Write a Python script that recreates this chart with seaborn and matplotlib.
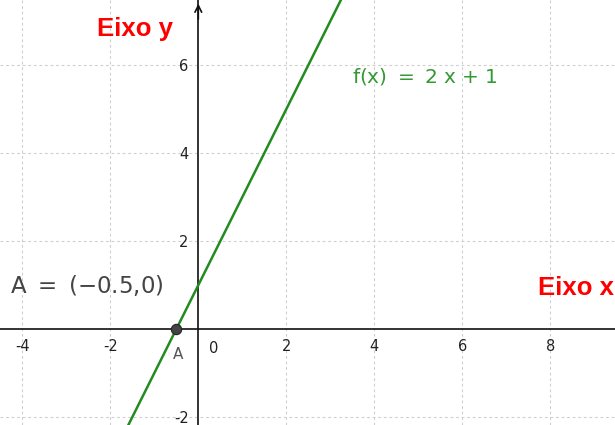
import matplotlib
matplotlib.use("Agg")
import matplotlib.pyplot as plt
import seaborn as sns
import pandas as pd

# data
line_x = [-2.0, 3.6]          # f(x) = 2x + 1 endpoints
line_y = [-3.0, 8.2]
point_x = [-0.5]
point_y = [0.0]
x_ticks = [-4, -2, 2, 4, 6, 8]
y_ticks = [-2, 2, 4, 6]

sns.set_theme(style="white")
plt.rcParams['font.family'] = ['DejaVu Sans']
plt.rcParams['axes.unicode_minus'] = False

fig = plt.figure(figsize=(6.15, 4.25), dpi=100)
ax = fig.add_axes([0, 0, 1, 1])

xlim = (-4.507, 9.47)
ylim = (-2.18, 7.48)

df_line = pd.DataFrame({"x": line_x, "y": line_y})
sns.lineplot(data=df_line, x="x", y="y", color="#228b22", lw=1.8, ax=ax, zorder=3)
df_pt = pd.DataFrame({"x": point_x, "y": point_y})
sns.scatterplot(data=df_pt, x="x", y="y", color="#444444", s=55, edgecolor="#222222",
                linewidth=0.8, ax=ax, zorder=5)

ax.set_xlim(*xlim)
ax.set_ylim(*ylim)
ax.set_xlabel("")
ax.set_ylabel("")

for s in ["top", "right"]:
    ax.spines[s].set_visible(False)
ax.spines["left"].set_position(("data", 0))
ax.spines["bottom"].set_position(("data", 0))
for s in ["left", "bottom"]:
    ax.spines[s].set_color("#111111")
    ax.spines[s].set_linewidth(1.2)

ax.set_xticks(x_ticks)
ax.set_yticks(y_ticks)
ax.tick_params(axis="both", direction="out", length=4, width=1.0, color="#111111",
               labelsize=10.5, labelcolor="#222222", pad=3)
ax.grid(True, color="#cfcfcf", ls=(0, (2.5, 2.5)), lw=0.8)
ax.set_axisbelow(True)

ax.text(0.25, -0.45, "0", fontsize=10.5, color="#222222", ha="left", va="center")

# arrow at top of y axis
ax.annotate("", xy=(0, ylim[1] - 0.02), xytext=(0, ylim[1] - 0.5),
            arrowprops=dict(arrowstyle="->", lw=1.2, color="#111111", mutation_scale=12))

# labels
ax.text(-0.46, -0.57, "A", fontsize=11, color="#555555", ha="center", va="center")
ax.text(-4.28, 1.0, "A $=$ (−0.5,0)", fontsize=16.5, color="#444444", ha="left", va="center")
ax.text(3.49, 5.73, "f(x) $=$ 2 x $+$ 1", fontsize=14.5, color="#339933", ha="left", va="center")
ax.text(-2.30, 6.82, "Eixo y", fontsize=18.5, color="#ff0000", fontweight="bold",
        family="Liberation Sans", ha="left", va="center")
ax.text(7.72, 0.93, "Eixo x", fontsize=18.5, color="#ff0000", fontweight="bold",
        family="Liberation Sans", ha="left", va="center")

fig.savefig("out.png", dpi=100)
